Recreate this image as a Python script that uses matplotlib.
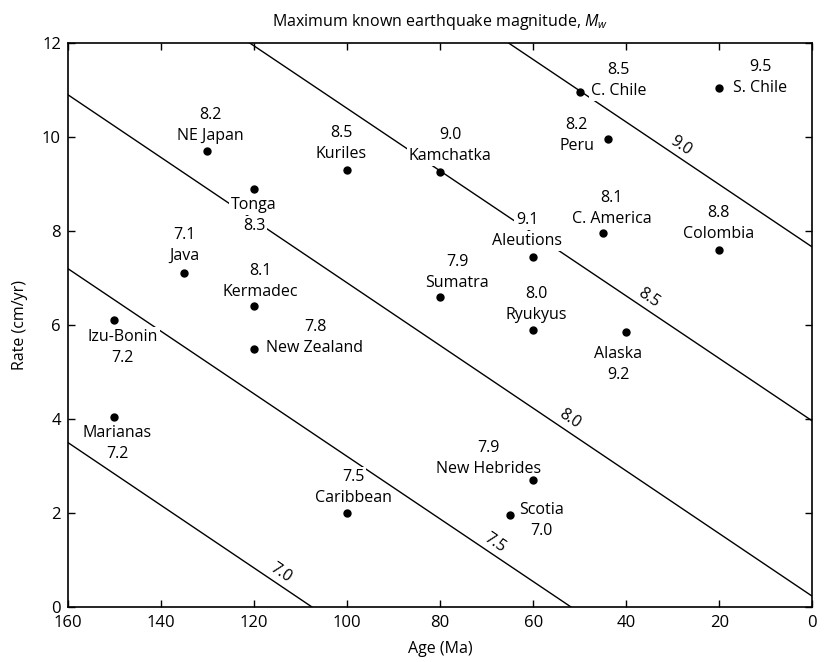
import numpy as np
import matplotlib
matplotlib.use("Agg")
import matplotlib.pyplot as plt

plt.rcParams["font.family"] = ["Open Sans", "DejaVu Sans"]
plt.rcParams["mathtext.fontset"] = "custom"
plt.rcParams["mathtext.it"] = "Open Sans:italic"
plt.rcParams["mathtext.rm"] = "Open Sans"

# subduction zones: age of subducting plate (Ma), convergence rate (cm/yr), max Mw
zones = ["NE Japan", "Tonga", "Kuriles", "Kamchatka", "C. Chile", "S. Chile", "Peru",
         "C. America", "Colombia", "Aleutions", "Sumatra", "Ryukyus", "Alaska", "Java",
         "Kermadec", "Izu-Bonin", "New Zealand", "Marianas", "Caribbean",
         "New Hebrides", "Scotia"]
age = [130, 120, 100, 80, 50, 20, 44, 45, 20, 60, 80, 60, 40, 135, 120, 150, 120, 150, 100, 60, 65]
rate = [9.7, 8.9, 9.3, 9.25, 10.95, 11.05, 9.95, 7.95, 7.6, 7.45, 6.6, 5.9, 5.85, 7.1,
        6.4, 6.1, 5.5, 4.05, 2.0, 2.7, 1.95]
mw = ["8.2", "8.3", "8.5", "9.0", "8.5", "9.5", "8.2", "8.1", "8.8", "9.1", "7.9", "8.0",
      "9.2", "7.1", "8.1", "7.2", "7.8", "7.2", "7.5", "7.9", "7.0"]

# predicted-magnitude lines: rate at age 160 and at age 0
line_mw = ["7.0", "7.5", "8.0", "8.5", "9.0"]
line_rate_160 = [3.5, 7.2, 10.9, 14.6, 18.3]
line_rate_0 = [-7.17, -3.45, 0.23, 3.96, 7.66]
line_label_age = [115.5, 69.5, 53.5, 36.5, 29.5]

# label layout: (dx, dy) in pixels from the point to the block centre, magnitude above name?
layout = [(3, 26, True), (0, -27, False), (-6, 26, True), (10, 27, True), (39, 12, True),
          (41, 10, True), (-31, 4, True), (9, 25, True), (-1, 26, True), (-6, 26, True),
          (17, 24, True), (3, 25, True), (-8, -32, False), (0, 28, True), (6, 25, True),
          (8, -27, False), (61, 11, True), (3, -27, False), (6, 26, True), (-45, 22, True),
          (32, -5, False)]

fig = plt.figure(figsize=(8.28, 6.62), dpi=100)
ax = fig.add_axes([0.082, 0.083, 0.899, 0.852])
ax.set_xlim(160, 0)
ax.set_ylim(0, 12)

fs = 11.5
for m, r160, r0 in zip(line_mw, line_rate_160, line_rate_0):
    ax.plot([160, 0], [r160, r0], color="black", lw=1.0, zorder=1)

# line labels rotated along the lines
p0 = ax.transData.transform((160, line_rate_160[0]))
p1 = ax.transData.transform((0, line_rate_0[0]))
ang = np.degrees(np.arctan2(p1[1] - p0[1], p1[0] - p0[0]))
nx, ny = -np.sin(np.radians(ang)), np.cos(np.radians(ang))
for m, r160, r0, a in zip(line_mw, line_rate_160, line_rate_0, line_label_age):
    r = r0 + (r160 - r0) * a / 160
    ax.annotate(m, (a, r), xytext=(nx * 11, ny * 11), textcoords="offset pixels",
                rotation=ang, rotation_mode="anchor", ha="center", va="center",
                fontsize=fs, zorder=2)

ax.plot(age, rate, "o", color="black", ms=5, zorder=4)
half = 10.5
box = dict(boxstyle="square,pad=0.12", fc="white", ec="none")
for name, a, r, m, (dx, dy, top) in zip(zones, age, rate, mw, layout):
    upper, lower = (m, name) if top else (name, m)
    for txt, off in ((upper, half), (lower, -half)):
        ax.annotate(txt, (a, r), xytext=(dx, dy + off), textcoords="offset pixels",
                    ha="center", va="center", fontsize=fs, zorder=3, bbox=box)

ax.set_xticks(np.arange(160, -1, -20))
ax.set_yticks(np.arange(0, 13, 2))
ax.tick_params(direction="in", length=5, width=1, top=True, right=True,
               labelsize=12, pad=5)
ax.tick_params(axis="x", pad=6)
for s in ax.spines.values():
    s.set_linewidth(1.2)
ax.set_xlabel("Age (Ma)", fontsize=fs, labelpad=7)
ax.set_ylabel("Rate (cm/yr)", fontsize=fs, labelpad=10)
ax.set_title("Maximum known earthquake magnitude, $M_w$", fontsize=fs, pad=12)

fig.savefig("out.png", dpi=100)
